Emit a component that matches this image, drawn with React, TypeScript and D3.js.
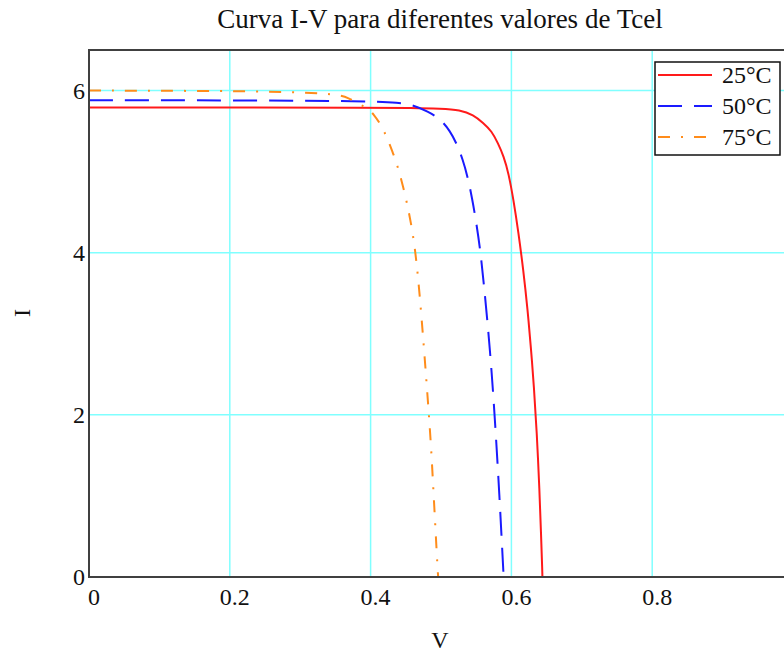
import { scaleLinear, line, curveBasis } from "d3";

const W = 784;
const H = 654;
// plot frame in page pixels; right edge falls past the window, as in the picture
const m = { left: 89, top: 50, right: 793, bottom: 577 };

const xTicks = [0, 0.2, 0.4, 0.6, 0.8];
const xTickLabels = ["0", "0.2", "0.4", "0.6", "0.8"];
const yTicks = [0, 2, 4, 6];
const yTickLabels = ["0", "2", "4", "6"];

const series = ["25°C", "50°C", "75°C"];

const vRed = [0, 0.2, 0.4, 0.46, 0.5, 0.527, 0.546, 0.56, 0.572, 0.581, 0.589, 0.596, 0.603, 0.61, 0.617, 0.623, 0.628, 0.632, 0.636, 0.64, 0.642, 0.644, 0.644];
const iRed = [5.79, 5.79, 5.79, 5.785, 5.775, 5.76, 5.7, 5.6, 5.5, 5.35, 5.19, 4.98, 4.65, 4.25, 3.78, 3.3, 2.8, 2.35, 1.8, 1.05, 0.55, 0.05, 0];

const vBlue = [0, 0.2, 0.4, 0.44, 0.458, 0.482, 0.499, 0.513, 0.522, 0.531, 0.538, 0.544, 0.55, 0.556, 0.561, 0.566, 0.571, 0.575, 0.579, 0.583, 0.586, 0.5885, 0.589];
const iBlue = [5.88, 5.88, 5.87, 5.85, 5.83, 5.74, 5.65, 5.5, 5.35, 5.15, 4.93, 4.68, 4.38, 4.02, 3.6, 3.15, 2.64, 2.15, 1.6, 1.0, 0.5, 0.08, 0];

const vOrange = [0, 0.2, 0.3, 0.34, 0.357, 0.368, 0.383, 0.397, 0.405, 0.413, 0.422, 0.431, 0.439, 0.446, 0.452, 0.457, 0.462, 0.466, 0.47, 0.474, 0.478, 0.482, 0.486, 0.489, 0.492, 0.495, 0.496];
const iOrange = [6.0, 5.995, 5.98, 5.96, 5.94, 5.91, 5.84, 5.77, 5.7, 5.6, 5.45, 5.25, 5.05, 4.82, 4.6, 4.38, 4.12, 3.82, 3.45, 3.02, 2.57, 2.1, 1.6, 1.1, 0.62, 0.12, 0];

const curves = [
  { name: series[0], v: vRed, i: iRed, color: "#ff1a1a", dash: "" },
  { name: series[1], v: vBlue, i: iBlue, color: "#1a1aff", dash: "24,12" },
  { name: series[2], v: vOrange, i: iOrange, color: "#ff8c1a", dash: "12,11,2,11" },
];

const font = "'Liberation Serif', 'Times New Roman', serif";

const App = () => {
  const x = scaleLinear().domain([0, 1]).range([m.left, m.right]);
  const y = scaleLinear().domain([0, 6.5]).range([m.bottom, m.top]);

  const path = (v: number[], i: number[]) =>
    line<number>()
      .x((d) => x(d))
      .y((_, k) => y(i[k]))
      .curve(curveBasis)(v) || "";

  return (
    <svg
      width={W}
      height={H}
      style={{ position: "absolute", left: 0, top: 0, background: "#fff" }}
      fontFamily={font}
    >
      <text x={440} y={28} textAnchor="middle" fontSize={27} fill="#111">
        Curva I-V para diferentes valores de Tcel
      </text>

      {/* grid */}
      {xTicks.slice(1).map((t) => (
        <line key={"gx" + t} x1={x(t)} x2={x(t)} y1={m.top} y2={m.bottom} stroke="#80ffff" strokeWidth={1.5} />
      ))}
      {yTicks.slice(1).map((t) => (
        <line key={"gy" + t} x1={m.left} x2={m.right} y1={y(t)} y2={y(t)} stroke="#80ffff" strokeWidth={1.5} />
      ))}

      {/* curves */}
      {curves.map((c) => (
        <path key={c.name} d={path(c.v, c.i)} fill="none" stroke={c.color} strokeWidth={2} strokeDasharray={c.dash} />
      ))}

      {/* frame */}
      <rect x={m.left} y={m.top} width={m.right - m.left} height={m.bottom - m.top} fill="none" stroke="#404040" strokeWidth={2} />

      {/* tick labels */}
      {xTicks.map((t, k) => (
        <text key={"tx" + t} x={x(t) + 5} y={605} textAnchor="middle" fontSize={24} fill="#111">
          {xTickLabels[k]}
        </text>
      ))}
      {yTicks.map((t, k) => (
        <text key={"ty" + t} x={85} y={y(t)} dy="0.35em" textAnchor="end" fontSize={24} fill="#111">
          {yTickLabels[k]}
        </text>
      ))}

      <text x={440} y={648} textAnchor="middle" fontSize={24} fill="#111">V</text>
      <text transform="translate(30,313) rotate(-90)" textAnchor="middle" fontSize={24} fill="#111">I</text>

      {/* legend */}
      <rect x={655} y={62} width={125} height={93} fill="#fff" stroke="#111" strokeWidth={1.5} />
      {curves.map((c, k) => (
        <g key={"lg" + c.name} transform={`translate(0,${75 + k * 31})`}>
          <line x1={658} x2={712} y1={0} y2={0} stroke={c.color} strokeWidth={2} strokeDasharray={c.dash} />
          <text x={722} y={0} dy="0.35em" fontSize={24} fill="#111">{c.name}</text>
        </g>
      ))}
    </svg>
  );
};

export default App;
